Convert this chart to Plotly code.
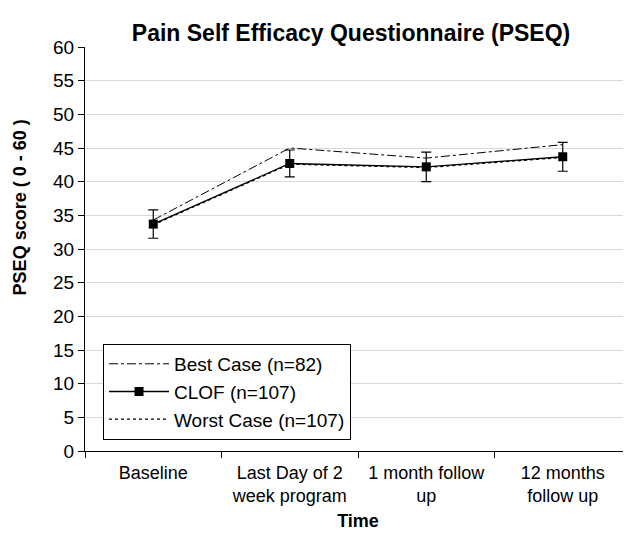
import plotly.graph_objects as go

categories = ["Baseline", "Last Day of 2<br>week program", "1 month follow<br>up", "12 months<br>follow up"]
best_case = [34.3, 45.0, 43.5, 45.5]
clof = [33.7, 42.7, 42.2, 43.7]
clof_err = [2.1, 2.0, 2.2, 2.15]
worst_case = [33.6, 42.6, 42.1, 43.6]
y_ticks = list(range(0, 61, 5))

FONT = "Liberation Sans, Arial, Helvetica, sans-serif"

# page has an 8px body margin, so the figure is sized to fit the 631x544 window
W, H = 623, 536
L, T, B = 77, 39, 93

fig = go.Figure()
fig.add_trace(go.Scatter(
    x=categories, y=best_case, mode="lines", name="Best Case (n=82)",
    line=dict(color="black", width=1, dash="dashdot"), legendgroup="a"))
fig.add_trace(go.Scatter(
    x=categories, y=clof, mode="lines+markers", name="CLOF (n=107)",
    line=dict(color="black", width=1.3),
    marker=dict(symbol="square", size=9, color="black"),
    error_y=dict(type="data", array=clof_err, visible=True, color="black", thickness=1.2, width=5),
    legendgroup="b"))
fig.add_trace(go.Scatter(
    x=categories, y=worst_case, mode="lines", name="Worst Case (n=107)",
    line=dict(color="black", width=1.3, dash="dot"), legendgroup="c"))

fig.update_layout(
    width=W, height=H,
    margin=dict(l=L, r=0, t=T, b=B, autoexpand=False),
    paper_bgcolor="white", plot_bgcolor="white",
    font=dict(family=FONT, color="black"),
    title=dict(text="<b>Pain Self Efficacy Questionnaire (PSEQ)</b>", x=343 / W, xanchor="center",
               y=1 - 25 / H, yanchor="middle", yref="container", font=dict(size=23, color="black")),
    showlegend=True,
    legend=dict(x=0.033, y=0.265, xanchor="left", yanchor="top",
                bordercolor="black", borderwidth=1, bgcolor="white",
                font=dict(size=19, color="black"), tracegroupgap=0,
                itemwidth=60),
    annotations=[dict(text="<b>PSEQ score ( 0 - 60 )</b>", textangle=-90,
                      xref="paper", yref="paper", x=(12 - L) / (W - L), y=0.603,
                      xanchor="center", yanchor="middle", showarrow=False,
                      font=dict(size=18, color="black"))],
)
fig.update_xaxes(
    type="category", range=[-0.5, 3.5], tickson="boundaries",
    showline=True, linecolor="black", linewidth=1,
    ticks="outside", ticklen=6, tickcolor="black",
    showgrid=False, tickfont=dict(size=18), automargin=False, ticklabelstandoff=5,
    title=dict(text="<b>Time</b>", font=dict(size=18), standoff=9))
fig.update_yaxes(
    range=[0, 60], tickvals=y_ticks, ticktext=[str(v) for v in y_ticks],
    showline=True, linecolor="black", linewidth=1,
    ticks="outside", ticklen=6, tickcolor="black",
    showgrid=True, gridcolor="#d9d9d9", gridwidth=1, zeroline=False,
    tickfont=dict(size=19), automargin=False, ticklabelstandoff=0)

fig.write_html("out.html")
